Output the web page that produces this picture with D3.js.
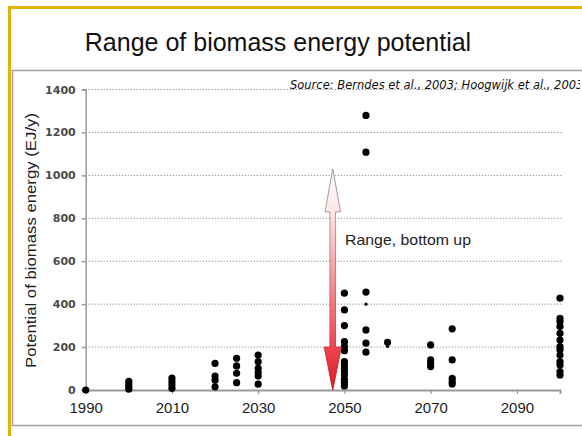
<!DOCTYPE html>
<html>
<head>
<meta charset="utf-8">
<script src="https://cdn.jsdelivr.net/npm/d3@7"></script>
<style>
  body { margin: 0; background: #fff; }
  svg { display: block; }
</style>
</head>
<body>
<div id="chart"></div>
<script>
// data
var years = [1990, 2000, 2010, 2020, 2025, 2030, 2050, 2055, 2060, 2070, 2075, 2100];
var potentials = [
  [0],
  [40, 28, 15, 4],
  [55, 39, 23, 8],
  [124, 65, 46, 15],
  [148, 112, 78, 34],
  [163, 132, 101, 81, 65, 27],
  [451, 373, 300, 225, 202, 183, 132, 117, 101, 86, 70, 50, 34, 19],
  [1279, 1108, 456, 280, 218, 176],
  [222],
  [210, 140, 124, 109],
  [285, 140, 54, 39, 28],
  [428, 334, 319, 296, 264, 233, 202, 187, 163, 132, 117, 86, 70]
];
// the two tiny markers
var smallYears = [2055, 2060];
var smallValues = [400, 203];

var yTicks = [0, 200, 400, 600, 800, 1000, 1200, 1400];
var xTicks = [1990, 2010, 2030, 2050, 2070, 2090];

var rangeYear = 2047.3;
var rangeTop = 1030;
var rangeBottom = 0;

var svgWidth = 582;
var svgHeight = 436;

var svg = d3.select("#chart")
  .append("svg")
  .attr("width", svgWidth)
  .attr("height", svgHeight);

// outer slide frame
svg.append("path")
  .attr("d", "M9.5,440 L9.5,7.5 L590,7.5")
  .attr("fill", "none")
  .attr("stroke", "#e0b300")
  .attr("stroke-width", 3);

svg.append("text")
  .attr("x", 278)
  .attr("y", 51)
  .attr("text-anchor", "middle")
  .attr("font-family", "'Liberation Sans', Arial, sans-serif")
  .attr("font-size", "25px")
  .attr("fill", "#111")
  .text("Range of biomass energy potential");

// inner picture box
svg.append("rect")
  .attr("x", 12.5)
  .attr("y", 70.5)
  .attr("width", 575)
  .attr("height", 355)
  .attr("fill", "#fff")
  .attr("stroke", "#a0a0a0")
  .attr("stroke-width", 1.5);

var x = d3.scaleLinear().domain([1990, 2100]).range([85.7, 560]);
var y = d3.scaleLinear().domain([0, 1400]).range([390, 89.5]);

// dotted grid
svg.append("g")
  .selectAll("line")
  .data(yTicks.filter(d => d > 0))
  .enter().append("line")
  .attr("x1", x(1990))
  .attr("x2", 563)
  .attr("y1", d => y(d))
  .attr("y2", d => y(d))
  .attr("stroke", "#8a8a8a")
  .attr("stroke-width", 1)
  .attr("stroke-dasharray", "1.2,1.8");

// y axis
var leftAxis = d3.axisLeft(y).tickValues(yTicks).tickSize(4).tickPadding(6).tickFormat(d3.format("d"));
var gy = svg.append("g")
  .attr("transform", `translate(${x(1990)},0)`)
  .call(leftAxis);
gy.select(".domain").attr("stroke", "#9a9a9a").attr("stroke-width", 1.5);
gy.selectAll(".tick line").attr("stroke", "#9a9a9a").attr("stroke-width", 1.5);
gy.selectAll(".tick text")
  .attr("font-family", "'DejaVu Sans', Verdana, sans-serif")
  .attr("font-weight", "bold")
  .attr("font-size", "11px")
  .attr("fill", "#4a4a4a");

// x axis
var bottomAxis = d3.axisBottom(x).tickValues(xTicks).tickSize(4).tickPadding(8).tickFormat(d3.format("d"));
var gx = svg.append("g")
  .attr("transform", `translate(0,${y(0)})`)
  .call(bottomAxis);
gx.select(".domain").attr("stroke", "#9a9a9a").attr("stroke-width", 2);
gx.selectAll(".tick line").attr("stroke", "#9a9a9a").attr("stroke-width", 1.2);
gx.selectAll(".tick text")
  .attr("font-family", "'Liberation Sans', Arial, sans-serif")
  .attr("font-size", "15px")
  .attr("fill", "#222");

// y label (slightly stretched in the original)
svg.append("text")
  .attr("transform", "rotate(-90)")
  .attr("x", -240.5)
  .attr("y", 36)
  .attr("text-anchor", "middle")
  .attr("font-family", "'Liberation Sans', Arial, sans-serif")
  .attr("font-size", "15px")
  .attr("textLength", 255)
  .attr("lengthAdjust", "spacingAndGlyphs")
  .attr("fill", "#222")
  .text("Potential of biomass energy (EJ/y)");

// source note, clipped by the box
svg.append("clipPath").attr("id", "boxclip")
  .append("rect").attr("x", 13).attr("y", 71).attr("width", 567).attr("height", 354);
svg.append("text")
  .attr("clip-path", "url(#boxclip)")
  .attr("x", 290)
  .attr("y", 89)
  .attr("font-family", "'DejaVu Sans', Verdana, sans-serif")
  .attr("font-style", "italic")
  .attr("font-size", "11.5px")
  .attr("fill", "#111")
  .text("Source: Berndes et al., 2003; Hoogwijk et al., 2003");

// points
var pts = [];
years.forEach(function(yr, i) {
  potentials[i].forEach(function(v) { pts.push({year: yr, value: v}); });
});
svg.append("g")
  .selectAll("circle")
  .data(pts)
  .enter().append("circle")
  .attr("cx", d => x(d.year))
  .attr("cy", d => y(d.value))
  .attr("r", 3.6)
  .attr("fill", "#000");

svg.append("g")
  .selectAll("circle")
  .data(smallYears.map((yr, i) => ({year: yr, value: smallValues[i]})))
  .enter().append("circle")
  .attr("cx", d => x(d.year))
  .attr("cy", d => y(d.value))
  .attr("r", 1.6)
  .attr("fill", "#000");

// range arrow
var defs = svg.append("defs");
var grad = defs.append("linearGradient")
  .attr("id", "rangeGrad")
  .attr("gradientUnits", "userSpaceOnUse")
  .attr("x1", 0).attr("x2", 0)
  .attr("y1", y(rangeTop)).attr("y2", y(rangeBottom));
grad.append("stop").attr("offset", "0%").attr("stop-color", "#ffffff");
grad.append("stop").attr("offset", "20%").attr("stop-color", "#fbe6e6");
grad.append("stop").attr("offset", "60%").attr("stop-color", "#f07a80");
grad.append("stop").attr("offset", "100%").attr("stop-color", "#e01822");

var sgrad = defs.append("linearGradient")
  .attr("id", "rangeStroke")
  .attr("gradientUnits", "userSpaceOnUse")
  .attr("x1", 0).attr("x2", 0)
  .attr("y1", y(rangeTop)).attr("y2", y(rangeBottom));
sgrad.append("stop").attr("offset", "0%").attr("stop-color", "#8a8a8a");
sgrad.append("stop").attr("offset", "25%").attr("stop-color", "#b09090");
sgrad.append("stop").attr("offset", "70%").attr("stop-color", "#e04048");
sgrad.append("stop").attr("offset", "100%").attr("stop-color", "#c8101a");

var ax = x(rangeYear), aTop = y(rangeTop), aBot = y(rangeBottom);
var shaft = 2.8, head = 7.8, headLen = 43;
var arrow = d3.path();
arrow.moveTo(ax, aTop);
arrow.lineTo(ax + head, aTop + headLen);
arrow.lineTo(ax + shaft, aTop + headLen);
arrow.lineTo(ax + shaft, aBot - headLen);
arrow.lineTo(ax + head + 0.8, aBot - headLen);
arrow.lineTo(ax, aBot);
arrow.lineTo(ax - head - 0.8, aBot - headLen);
arrow.lineTo(ax - shaft, aBot - headLen);
arrow.lineTo(ax - shaft, aTop + headLen);
arrow.lineTo(ax - head, aTop + headLen);
arrow.closePath();
svg.append("path")
  .attr("d", arrow.toString())
  .attr("fill", "url(#rangeGrad)")
  .attr("stroke", "url(#rangeStroke)")
  .attr("stroke-width", 0.9);

svg.append("text")
  .attr("x", 345)
  .attr("y", 245)
  .attr("font-family", "'Liberation Sans', Arial, sans-serif")
  .attr("font-size", "14.5px")
  .attr("textLength", 126)
  .attr("lengthAdjust", "spacingAndGlyphs")
  .attr("fill", "#222")
  .text("Range, bottom up");
</script>
</body>
</html>
